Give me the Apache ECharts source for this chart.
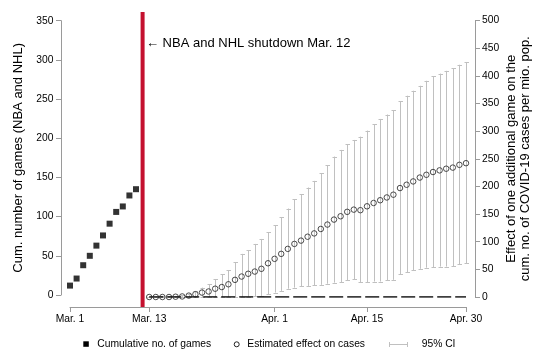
<!DOCTYPE html>
<html><head><meta charset="utf-8">
<script src="https://cdn.jsdelivr.net/npm/echarts@6/dist/echarts.min.js"></script>
<style>html,body{margin:0;padding:0;background:#fff}#c{width:550px;height:360px}</style>
</head><body><div id="c"></div>
<script>
// x values are days since Mar. 1, 2020
const gameDays = [0,1,2,3,4,5,6,7,8,9,10];
const cumGames = [12,21,38,50,63,76,91,106,113,127,135];
const effectDays = [12,13,14,15,16,17,18,19,20,21,22,23,24,25,26,27,28,29,30,31,32,33,34,35,36,37,38,39,40,41,42,43,44,45,46,47,48,49,50,51,52,53,54,55,56,57,58,59,60];
const effect = [0,0,0,0,0.5,1,2.5,5,8,10,15,18,23,31,37,42,46,51,61,69,78,87,96,102,109,115,123,131,140,146,154,158,157,164,170,175,180,185,197,203,209,216,221,226,229,232,234,239,242];
const ciUpper = [0.5,0.5,1,1,2,3,6,11,17,23,32,41,48,63,78,85,96,105,117,130,144,160,177,186,198,210,224,238,254,266,276,284,290,301,312,322,330,338,354,364,373,382,391,399,404,409,414,420,425];
const ciLower = [0,0,0,0,0,0,0,0,0,0,0,0,0,0,0,0.5,1,2,5,8,11,15,17,19,20,21,22,24,26,27,30,32,27,27,28,28,30,31,41,45,48,51,53,54,55,55,56,59,61];
const zeroLineDays = [12,60];
const zeroLineValues = [0,0];
const xTickDays = [0,12,31,45,60];
const xTickLabels = ['Mar. 1','Mar. 13','Apr. 1','Apr. 15','Apr. 30'];
const shutdownDay = 11;
const leftTitle = 'Cum. number of games (NBA and NHL)';
const rightTitle = 'Effect of one additional game on the\ncum. no. of COVID-19 cases per mio. pop.';
const annotation = '\u2190 NBA and NHL shutdown Mar. 12';
const legendLabels = ['Cumulative no. of games','Estimated effect on cases','95% CI'];

const FONT = "'Liberation Sans', Arial, sans-serif";
const AX = '#9a9a9a';
const CI = '#c0c0c0';
const chart = echarts.init(document.getElementById('c'), null, {renderer:'canvas'});

function axisBase(){
  return {
    axisLine:{show:true, onZero:false, lineStyle:{color:AX, width:1}},
    axisTick:{show:true, length:5, lineStyle:{color:AX, width:1}},
    splitLine:{show:false}
  };
}

chart.setOption({
  animation:false,
  backgroundColor:'#fff',
  textStyle:{fontFamily:FONT},
  grid:[
    {left:70, right:84, top:20.7, bottom:65},
    {left:70, right:84, top:20.5, bottom:63}
  ],
  xAxis:[
    {gridIndex:0, type:'value', min:0, max:60, show:false},
    Object.assign(axisBase(), {
      gridIndex:1, type:'value', min:0, max:60, offset:10,
      axisTick:{show:true, length:5, lineStyle:{color:AX}, customValues:xTickDays},
      axisLabel:{customValues:xTickDays, formatter:v=>xTickLabels[xTickDays.indexOf(v)] || '', fontSize:10.3, color:'#000', fontFamily:FONT, margin:7}
    })
  ],
  yAxis:[
    Object.assign(axisBase(), {
      gridIndex:0, type:'value', min:0, max:350, interval:50, position:'left', offset:9,
      axisLabel:{fontSize:10.3, color:'#000', fontFamily:FONT, margin:7.5},
      name:leftTitle, nameLocation:'middle', nameRotate:90, nameGap:34,
      nameTextStyle:{fontSize:13, color:'#000', fontFamily:FONT}
    }),
    Object.assign(axisBase(), {
      gridIndex:1, type:'value', min:0, max:500, interval:50, position:'right', offset:9,
      axisLabel:{fontSize:10.3, color:'#000', fontFamily:FONT, margin:7},
      name:rightTitle, nameLocation:'middle', nameRotate:90, nameGap:30, nameMoveOverlap:false,
      nameTextStyle:{fontSize:13, color:'#000', fontFamily:FONT, lineHeight:13.5}
    })
  ],
  series:[
    {
      type:'custom', xAxisIndex:1, yAxisIndex:1, z:1,
      data: effectDays.map((d,i)=>[d, ciLower[i], ciUpper[i]]),
      renderItem:(params, api)=>{
        const lo = api.coord([api.value(0), api.value(1)]);
        const hi = api.coord([api.value(0), api.value(2)]);
        const x = Math.round(lo[0]) + 0.5;
        const st = {stroke:CI, lineWidth:1};
        return {type:'group', children:[
          {type:'line', shape:{x1:x, y1:lo[1], x2:x, y2:hi[1]}, style:st},
          {type:'line', shape:{x1:x-2, y1:Math.round(hi[1])+0.5, x2:x+2.5, y2:Math.round(hi[1])+0.5}, style:st},
          {type:'line', shape:{x1:x-2, y1:Math.round(lo[1])+0.5, x2:x+2.5, y2:Math.round(lo[1])+0.5}, style:st}
        ]};
      }
    },
    {
      type:'line', xAxisIndex:1, yAxisIndex:1, z:2, symbol:'none',
      data: zeroLineDays.map((d,i)=>[d, zeroLineValues[i]]),
      lineStyle:{color:'#000', width:1.5, type:[14,4]}
    },
    {
      type:'scatter', xAxisIndex:1, yAxisIndex:1, z:3,
      symbol:'circle', symbolSize:5.5,
      data: effectDays.map((d,i)=>[d, effect[i]]),
      itemStyle:{color:'rgba(0,0,0,0)', borderColor:'#222', borderWidth:1}
    },
    {
      type:'scatter', xAxisIndex:0, yAxisIndex:0, z:3,
      symbol:'rect', symbolSize:6,
      data: gameDays.map((d,i)=>[d, cumGames[i]]),
      itemStyle:{color:'#000'}
    },
    {
      type:'custom', xAxisIndex:1, yAxisIndex:1, z:4, clip:false,
      data:[[shutdownDay, 0]],
      renderItem:(params, api)=>{
        const p = api.coord([api.value(0), 0]);
        const cs = params.coordSys;
        return {type:'rect', shape:{x:p[0]-2, y:cs.y-8.5, width:4, height:cs.height+18.5}, style:{fill:'#c4112f'}};
      }
    }
  ],
  graphic:[
    {type:'text', left:146, top:36.5, style:{text:annotation, font:"13px "+FONT, fill:'#000'}},
    {type:'rect', shape:{x:83.3, y:341.3, width:5.5, height:5.5}, style:{fill:'#000'}},
    {type:'text', x:97.3, y:344.5, style:{text:legendLabels[0], font:"10.3px "+FONT, fill:'#000', textVerticalAlign:'middle'}},
    {type:'circle', shape:{cx:236.7, cy:344.3, r:2.5}, style:{fill:'none', stroke:'#222', lineWidth:1}},
    {type:'text', x:247.3, y:344.5, style:{text:legendLabels[1], font:"10.3px "+FONT, fill:'#000', textVerticalAlign:'middle'}},
    {type:'line', shape:{x1:389, y1:344.5, x2:408, y2:344.5}, style:{stroke:CI, lineWidth:1}},
    {type:'line', shape:{x1:389.5, y1:342, x2:389.5, y2:347}, style:{stroke:CI, lineWidth:1}},
    {type:'line', shape:{x1:407.5, y1:342, x2:407.5, y2:347}, style:{stroke:CI, lineWidth:1}},
    {type:'text', x:421.7, y:344.5, style:{text:legendLabels[2], font:"10.3px "+FONT, fill:'#000', textVerticalAlign:'middle'}}
  ]
});
</script></body></html>
